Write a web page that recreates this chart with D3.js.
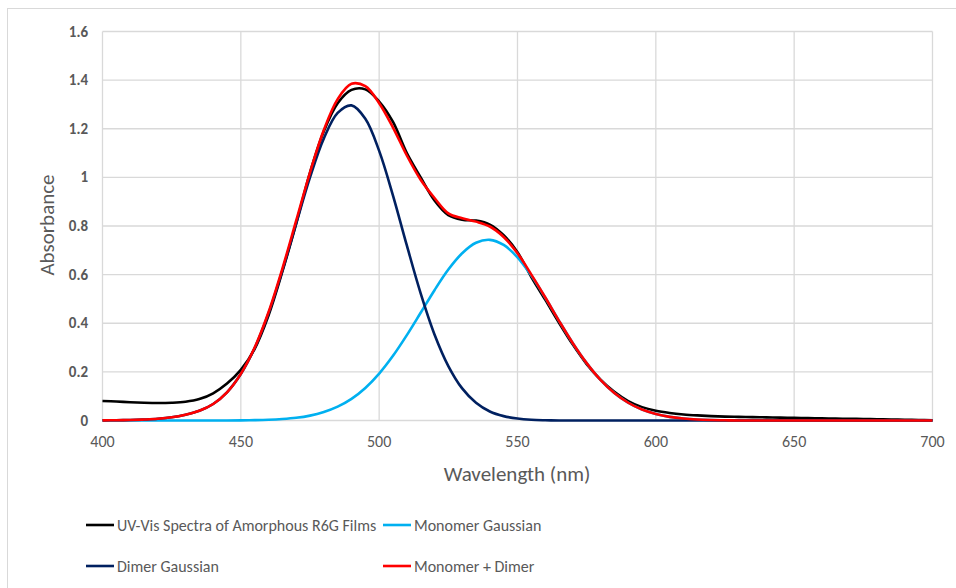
<!DOCTYPE html>
<html>
<head>
<meta charset="utf-8">
<title>UV-Vis Spectra of Amorphous R6G Films</title>
<script src="https://d3js.org/d3.v7.min.js"></script>
<style>
  body { margin: 0; background: #fff; }
  svg text { font-family: Carlito, Lato, "Open Sans", sans-serif; fill: #595959; }
</style>
</head>
<body>
<div id="chart"></div>
<script>
// wavelength grid (nm)
var wavelength = [400,405,410,415,420,425,430,435,440,445,450,455,460,465,470,475,480,485,490,495,
  500,505,510,515,520,525,530,535,540,545,550,555,560,565,570,575,580,585,590,595,
  600,605,610,615,620,625,630,635,640,645,650,655,660,665,670,675,680,685,690,695,700];

var measured = [0.080,0.078,0.075,0.073,0.072,0.073,0.077,0.088,0.112,0.152,0.208,0.295,0.432,0.612,0.810,1.020,1.190,1.305,1.360,1.362,
  1.312,1.228,1.100,1.000,0.905,0.845,0.826,0.822,0.806,0.762,0.692,0.590,0.497,0.402,0.312,0.232,0.168,0.118,0.080,0.055,
  0.040,0.031,0.025,0.021,0.018,0.016,0.015,0.014,0.013,0.012,0.011,0.010,0.009,0.008,0.007,0.006,0.005,0.004,0.003,0.002,0.001];

var monomer = [0,0,0,0,0,0,0,0,0.0001,0.0003,0.0007,0.0015,0.003,0.006,0.011,0.020,0.035,0.057,0.089,0.134,
  0.193,0.266,0.351,0.443,0.536,0.621,0.688,0.731,0.743,0.722,0.671,0.596,0.506,0.410,0.318,0.236,0.167,0.113,0.073,0.045,
  0.027,0.015,0.008,0.004,0.002,0.001,0,0,0,0,0,0,0,0,0,0,0,0,0,0,0];

var dimer = [0.0005,0.001,0.002,0.004,0.007,0.013,0.024,0.040,0.068,0.116,0.191,0.298,0.440,0.616,0.810,1.000,1.160,1.265,1.296,1.241,
  1.109,0.925,0.720,0.523,0.354,0.224,0.132,0.073,0.037,0.018,0.008,0.003,0.001,0,0,0,0,0,0,0,
  0,0,0,0,0,0,0,0,0,0,0,0,0,0,0,0,0,0,0,0,0];

var combined = [0.0005,0.001,0.002,0.004,0.007,0.013,0.024,0.040,0.068,0.116,0.192,0.300,0.445,0.624,0.822,1.020,1.195,1.322,1.385,1.375,
  1.305,1.205,1.090,0.990,0.915,0.852,0.832,0.818,0.798,0.755,0.688,0.600,0.507,0.410,0.318,0.236,0.167,0.113,0.073,0.045,
  0.027,0.015,0.008,0.004,0.002,0.001,0,0,0,0,0,0,0,0,0,0,0,0,0,0,0];

var seriesNames = ["UV-Vis Spectra of Amorphous R6G Films", "Monomer Gaussian", "Dimer Gaussian", "Monomer + Dimer"];
var seriesColors = ["#000000", "#00B0F0", "#002060", "#FF0000"];
var seriesValues = [measured, monomer, dimer, combined];

var xTicks = [400, 450, 500, 550, 600, 650, 700];
var yTicks = [0, 0.2, 0.4, 0.6, 0.8, 1, 1.2, 1.4, 1.6];

var width = 956, height = 588;

var svg = d3.select("#chart").append("svg")
    .attr("width", width)
    .attr("height", height);

// chart border
svg.append("rect")
    .attr("x", 7.5).attr("y", 8.5)
    .attr("width", 1000).attr("height", 1000)
    .attr("fill", "none")
    .attr("stroke", "#d9d9d9");

var x = d3.scaleLinear().domain([400, 700]).range([102.5, 932.5]);
var y = d3.scaleLinear().domain([0, 1.6]).range([420.5, 31.5]);

// gridlines
svg.append("g").selectAll("line")
    .data(yTicks)
    .enter().append("line")
    .attr("x1", x(400)).attr("x2", x(700))
    .attr("y1", d => y(d)).attr("y2", d => y(d))
    .attr("stroke", "#d9d9d9").attr("stroke-width", 1.3);

svg.append("g").selectAll("line")
    .data(xTicks)
    .enter().append("line")
    .attr("x1", d => x(d)).attr("x2", d => x(d))
    .attr("y1", y(0)).attr("y2", y(1.6))
    .attr("stroke", "#d9d9d9").attr("stroke-width", 1.3);

// tick labels
svg.append("g").selectAll("text")
    .data(yTicks)
    .enter().append("text")
    .attr("x", 88)
    .attr("y", d => y(d) + 5)
    .attr("text-anchor", "end")
    .attr("font-size", "15px")
    .attr("font-weight", "bold")
    .text(d => d3.format("")(d));

svg.append("g").selectAll("text")
    .data(xTicks)
    .enter().append("text")
    .attr("x", d => x(d))
    .attr("y", 447)
    .attr("text-anchor", "middle")
    .attr("font-size", "16px")
    .text(d => d);

// axis titles
svg.append("text")
    .attr("transform", "translate(54,225) rotate(-90)")
    .attr("text-anchor", "middle")
    .attr("font-size", "21px")
    .text("Absorbance");

svg.append("text")
    .attr("x", 517)
    .attr("y", 481)
    .attr("text-anchor", "middle")
    .attr("font-size", "21px")
    .text("Wavelength (nm)");

// lines
var line = d3.line()
    .x(d => x(d[0]))
    .y(d => y(d[1]))
    .curve(d3.curveCatmullRom.alpha(0.5));

seriesValues.forEach(function(vals, i) {
    svg.append("path")
        .datum(wavelength.map((w, j) => [w, vals[j]]))
        .attr("d", line)
        .attr("fill", "none")
        .attr("stroke", seriesColors[i])
        .attr("stroke-width", 2.6)
        .attr("stroke-linejoin", "round");
});

// legend
var legendPos = [[86, 525], [383, 525], [86, 566], [383, 566]];
var legend = svg.append("g").selectAll("g")
    .data(seriesNames)
    .enter().append("g")
    .attr("transform", (d, i) => "translate(" + legendPos[i][0] + "," + legendPos[i][1] + ")");

legend.append("line")
    .attr("x1", 0).attr("x2", 28)
    .attr("stroke", (d, i) => seriesColors[i])
    .attr("stroke-width", 2.6);

legend.append("text")
    .attr("x", 31)
    .attr("y", 5.5)
    .attr("font-size", "16px")
    .text(d => d);
</script>
</body>
</html>
